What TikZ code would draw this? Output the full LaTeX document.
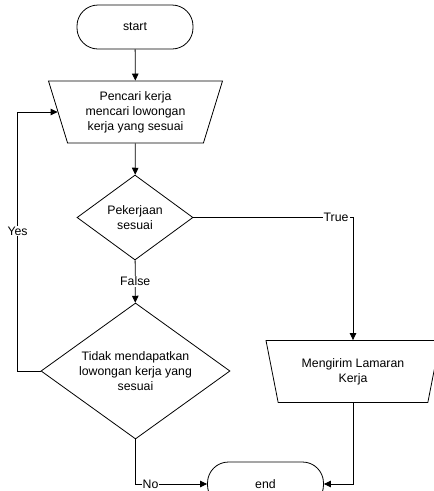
\documentclass[tikz,border=0pt]{standalone}
\usepackage{fontspec}
\setmainfont{Liberation Sans}
\usetikzlibrary{shapes.geometric,arrows.meta}
\begin{document}
\begin{tikzpicture}[x=1pt,y=-1pt,
  every node/.style={font=\fontsize{12.3}{15}\selectfont},
  line/.style={draw=black,line width=0.8pt},
  arr/.style={line,-{Triangle[length=7pt,width=6.5pt]}},
  term/.style={line,rectangle,rounded corners=21pt,minimum width=116pt,minimum height=44pt,inner sep=0pt},
  trap/.style={line,trapezium,trapezium left angle=65.3,trapezium right angle=65.3,shape border rotate=180,trapezium stretches body,minimum width=174pt,minimum height=62pt,inner sep=0pt,align=center},
  dia/.style={line,diamond,inner sep=0pt,align=center},
  lbl/.style={fill=white,inner sep=1pt}]
\clip (0,0) rectangle (434,491);
\useasboundingbox (0,0) rectangle (434,491);
\node[term] (start) at (135,27) {start};
\node[trap] (trap1) at (135.5,112) {Pencari kerja\\mencari lowongan\\kerja yang sesuai};
\node[dia,minimum width=116pt,minimum height=85pt,aspect=1.36] (d1) at (135,217.5) {Pekerjaan\\sesuai};
\node[dia,minimum width=189pt,minimum height=136pt,aspect=1.39] (d2) at (135.5,371) {Tidak mendapatkan\\lowongan kerja yang\\sesuai};
\node[trap] (trap2) at (353,371.5) {Mengirim Lamaran\\Kerja};
\node[term] (end) at (265.5,484) {end};
\draw[arr] (start) -- (trap1);
\draw[arr] (trap1) -- (d1);
\draw[arr] (d1) -- node[lbl] {False} (d2);
\draw[arr] (d1.east) -| node[lbl,pos=0.447] {True} (trap2.north);
\draw[arr] (d2.west) -- ++(-23,0) |- node[lbl,pos=0.27] {Yes} (trap1.west);
\draw[arr] (d2.south) |- node[lbl,pos=0.605] {No} (end.west);
\draw[arr] (trap2.south) |- (end.east);
\end{tikzpicture}
\end{document}
